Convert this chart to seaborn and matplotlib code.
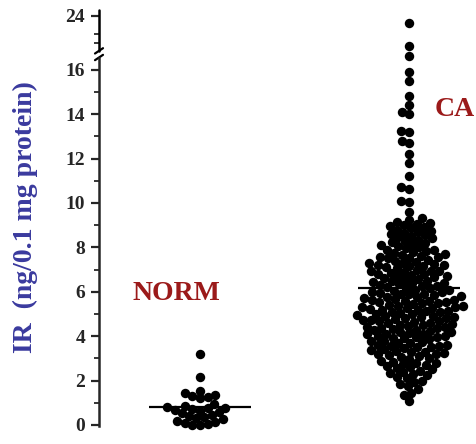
import numpy as np
import pandas as pd
import matplotlib
matplotlib.use("Agg")
import matplotlib.pyplot as plt
import matplotlib.transforms as mtransforms
from matplotlib.ticker import FixedLocator
import seaborn as sns

# ---------------- data ----------------
groups = ["NORM", "CA"]
norm_values = [3.2, 2.15, 1.55, 1.45, 1.35, 1.3, 1.25, 1.2, 0.95, 0.85, 0.8, 0.78,
               0.75, 0.7, 0.68, 0.65, 0.6, 0.55, 0.45, 0.4, 0.35, 0.3, 0.25, 0.2,
               0.15, 0.1, 0.05, 0.0, 0.0]
ca_values = [22.5, 17.3, 16.6, 15.9, 15.5, 14.8, 14.4, 14.1, 14.0, 13.25, 13.2, 12.8,
             12.7, 12.2, 11.8, 11.2, 10.7, 10.65, 10.1, 10.05, 9.6,
             9.05, 9.1, 9.0, 9.15, 9.3, 9.25,
             8.65, 8.7, 8.8, 8.9, 8.75, 8.95, 8.85, 8.6,
             8.25, 8.3, 8.4, 8.45, 8.5, 8.35, 8.55, 8.2,
             7.85, 7.9, 8.0, 8.05, 8.1, 7.95, 8.15, 7.8, 7.9,
             7.45, 7.5, 7.55, 7.6, 7.65, 7.7, 7.4, 7.75, 7.58, 7.5,
             7.05, 7.1, 7.15, 7.2, 7.25, 7.3, 7.35, 7.0, 7.18, 7.28, 7.2,
             6.65, 6.7, 6.75, 6.8, 6.85, 6.9, 6.95, 6.6, 6.72, 6.82, 6.92, 6.95,
             6.25, 6.3, 6.35, 6.4, 6.45, 6.5, 6.55, 6.2, 6.28, 6.38, 6.48, 6.58,
             5.85, 5.9, 5.95, 6.0, 6.05, 6.1, 6.15, 5.8, 5.88, 5.98, 6.08, 6.18, 5.92,
             5.45, 5.5, 5.55, 5.6, 5.65, 5.7, 5.75, 5.4, 5.48, 5.58, 5.68, 5.78, 5.52, 5.62,
             5.05, 5.1, 5.15, 5.2, 5.25, 5.3, 5.35, 5.0, 5.08, 5.18, 5.28, 5.38, 5.12, 5.22, 5.32,
             4.65, 4.7, 4.75, 4.8, 4.85, 4.9, 4.95, 4.6, 4.68, 4.78, 4.88, 4.98, 4.72, 4.82, 4.92,
             4.3, 4.35, 4.4, 4.5, 4.55, 4.2, 4.28, 4.38, 4.48, 4.58, 4.22, 4.32, 4.42, 4.52,
             3.9, 3.95, 4.0, 4.1, 4.15, 3.8, 3.88, 3.98, 4.08, 4.18, 3.92, 4.02, 4.12,
             3.5, 3.55, 3.6, 3.7, 3.75, 3.4, 3.48, 3.58, 3.68, 3.78, 3.52, 3.62,
             3.1, 3.15, 3.2, 3.3, 3.35, 3.0, 3.08, 3.18, 3.28, 3.38, 3.22,
             2.65, 2.7, 2.75, 2.8, 2.85, 2.9, 2.95, 2.6, 2.78,
             2.25, 2.3, 2.4, 2.45, 2.5, 2.55, 2.35,
             1.85, 1.95, 2.0, 2.1, 2.15,
             1.45, 1.6, 1.75,
             1.1, 1.35]
major_ticks = [0, 2, 4, 6, 8, 10, 12, 14, 16, 24]
minor_ticks = [1, 3, 5, 7, 9, 11, 13, 15, 18, 20]
y_label = "IR  (ng/0.1 mg protein)"

df = pd.DataFrame({
    "group": ["NORM"] * len(norm_values) + ["CA"] * len(ca_values),
    "value": norm_values + ca_values,
})

# ---------------- style ----------------
sns.set_style("white")
plt.rcParams["font.family"] = ["Liberation Serif", "DejaVu Serif"]
plt.rcParams["font.weight"] = "bold"

BLUE = "#3a3a9e"
RED = "#9b1a1a"

# broken axis: compress values above 17
K = 0.203
def fwd(v):
    v = np.asarray(v, dtype=float)
    return np.where(v <= 17, v, 17 + (v - 17) * K)
def inv(u):
    u = np.asarray(u, dtype=float)
    return np.where(u <= 17, u, 17 + (u - 17) / K)

fig = plt.figure(figsize=(4.77, 4.44), dpi=100)
ax = fig.add_axes([99 / 477, 0, 378 / 477, 1])
ax.set_yscale("function", functions=(fwd, inv))

sns.swarmplot(data=df, x="group", y="value", order=groups, color="black",
              size=5.4, linewidth=0, ax=ax, warn_thresh=1.0)

ax.set_xlim(-0.483, 1.325)
ax.set_ylim(-0.856, float(inv(19.14)))

# compute swarm layout, then freeze it and enlarge the markers
fig.canvas.draw()
for coll in ax.collections:
    if "draw" in coll.__dict__:
        del coll.draw
    coll.set_sizes([6.8 ** 2])

# mean lines
for i, vals in enumerate([norm_values, ca_values]):
    ax.hlines(np.mean(vals), i - 0.245, i + 0.245, color="black", lw=1.6, zorder=5)

# axes decoration
for s in ["top", "right", "bottom"]:
    ax.spines[s].set_visible(False)
ax.spines["left"].set_linewidth(1.8)
ax.spines["left"].set_bounds(-0.05, 16.55)
trans = mtransforms.blended_transform_factory(ax.transAxes, ax.transData)
ax.plot([0, 0], [16.85, 25.3], color="black", lw=1.8, transform=trans, clip_on=False)
dx = 4 / 378
for yb in (16.55, 16.85):
    ax.plot([-dx, dx], [yb - 0.12, yb + 0.12], color="black", lw=1.6,
            transform=trans, clip_on=False)

ax.set_xlabel("")
ax.tick_params(axis="x", bottom=False, labelbottom=False)
ax.yaxis.set_major_locator(FixedLocator(major_ticks))
ax.yaxis.set_minor_locator(FixedLocator(minor_ticks))
ax.set_yticklabels([str(t) for t in major_ticks], fontsize=14, fontweight="bold",
                   fontfamily="Liberation Serif")
ax.tick_params(axis="y", which="major", direction="out", length=6, width=1.6, pad=4, left=True)
ax.tick_params(axis="y", which="minor", direction="out", length=3.5, width=1.3, left=True)
ax.set_ylabel("")

fig.text(25 / 477, 1 - 217 / 444, y_label, rotation=90, ha="center", va="center",
         fontsize=20, fontweight="bold", color=BLUE, fontfamily="Liberation Serif")
ax.text(0 - 24 / 209, 5.9, "NORM", ha="center", va="center", fontsize=20,
        fontweight="bold", color=RED)
ax.text(1 + 46 / 209, 14.2, "CA", ha="center", va="center", fontsize=20,
        fontweight="bold", color=RED)

fig.savefig("out.png", dpi=100)
